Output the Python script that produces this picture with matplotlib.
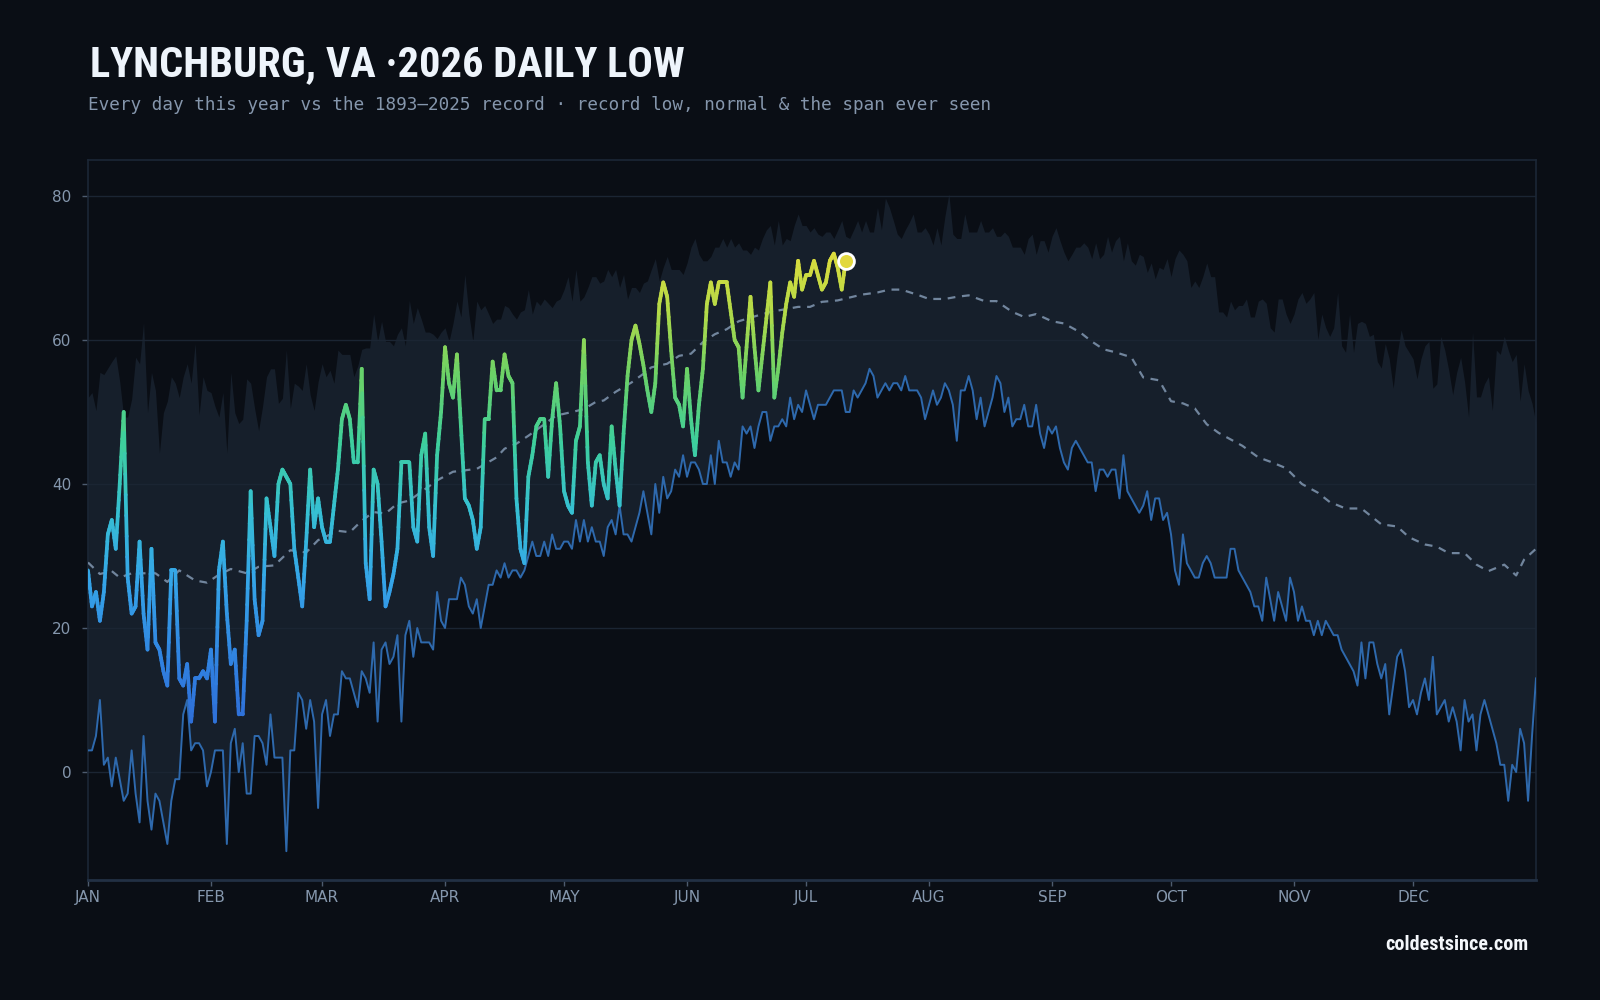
import numpy as np
import matplotlib
matplotlib.use("Agg")
import matplotlib.pyplot as plt
from matplotlib.collections import LineCollection
from matplotlib.colors import LinearSegmentedColormap
from matplotlib import font_manager

# ---------------- data ----------------
month_labels = ["JAN", "FEB", "MAR", "APR", "MAY", "JUN", "JUL", "AUG", "SEP", "OCT", "NOV", "DEC"]
month_starts = [0, 31, 59, 90, 120, 151, 181, 212, 243, 273, 304, 334]
y_ticks = [0, 20, 40, 60, 80]

# 2026 daily lows (Jan 1 .. Jul 11)
this_year = [
    28, 23, 25, 21, 25, 33, 35, 31, 40, 50,
    27, 22, 23, 32, 22, 17, 31, 18, 17, 14,
    12, 28, 28, 13, 12, 15, 7, 13, 13, 14,
    13, 17, 7, 28, 32, 22, 15, 17, 8, 8,
    21, 39, 24, 19, 21, 38, 34, 30, 40, 42,
    41, 40, 31, 27, 23, 32, 42, 34, 38, 34,
    32, 32, 37, 42, 49, 51, 49, 43, 43, 56,
    29, 24, 42, 40, 32, 23, 25, 27.5, 31, 43,
    43, 43, 34, 32, 44, 47, 34, 30, 44, 50,
    59, 54, 52, 58, 48, 38, 37, 35, 31, 34,
    49, 49, 57, 53, 53, 58, 55, 54, 38, 31,
    29, 41, 44, 48, 49, 49, 41, 49, 54, 48,
    39, 37, 36, 46, 48, 60, 43, 37, 43, 44,
    40, 38, 48, 42, 37, 47, 55, 60, 62, 59.5,
    56.5, 53, 50, 54, 65, 68, 66, 58.5, 52, 51,
    48, 56, 49, 44, 51, 56, 65, 68, 65, 68,
    68, 68, 64, 60, 59, 52, 59, 66, 59, 53,
    58, 63, 68, 52, 56, 61, 65, 68, 66, 71,
    67, 69, 69, 71, 69, 67, 68, 71, 72, 70,
    67, 71,
]

# record low of the daily low, 1893-2025
record_low = [
    3, 3, 5, 10, 1, 2, -2, 2, -1, -4,
    -3, 3, -3, -7, 5, -4, -8, -3, -4, -7,
    -10, -4, -1, -1, 8, 10, 3, 4, 4, 3,
    -2, 0, 3, 3, 3, -10, 4, 6, 0, 4,
    -3, -3, 5, 5, 4, 1, 8, 2, 2, 2,
    -11, 3, 3, 11, 10, 6, 10, 7, -5, 8,
    10, 5, 8, 8, 14, 13, 13, 11, 9, 14,
    13, 11, 18, 7, 17, 18, 15, 16, 19, 7,
    19, 21, 16, 20, 18, 18, 18, 17, 25, 21,
    20, 24, 24, 24, 27, 26, 23, 22, 24, 20,
    23, 26, 26, 28, 27, 29, 27, 28, 28, 27,
    28, 30, 32, 30, 30, 32, 30, 33, 31, 31,
    32, 32, 31, 35, 32, 35, 32, 34, 32, 32,
    30, 34, 35, 33, 37, 33, 33, 32, 34, 36,
    39, 36, 33, 40, 36, 41, 38, 39, 42, 41,
    44, 41, 43, 43, 42, 40, 40, 44, 40, 46,
    43, 43, 41, 43, 42, 48, 47, 48, 45, 48,
    50, 50, 46, 48, 48, 49, 48, 52, 49, 51,
    50, 53, 51, 49, 51, 51, 51, 52, 53, 53,
    53, 50, 50, 53, 52, 53, 54, 56, 55, 52,
    53, 54, 53, 54, 54, 53, 55, 53, 53, 53,
    52, 49, 51, 53, 51, 52, 54, 53, 51, 46,
    53, 53, 55, 53, 49, 52, 48, 50, 52, 55,
    54, 50, 52, 48, 49, 49, 51, 48, 48, 51,
    47, 45, 48, 47, 48, 45, 43, 42, 45, 46,
    45, 44, 43, 43, 39, 42, 42, 41, 42, 42,
    38, 44, 39, 38, 37, 36, 37, 39, 35, 38,
    38, 35, 36, 33, 28, 26, 33, 29, 28, 27,
    27, 29, 30, 29, 27, 27, 27, 27, 31, 31,
    28, 27, 26, 25, 23, 23, 21, 27, 24, 21,
    25, 23, 21, 27, 25, 21, 23, 21, 21, 19,
    21, 19, 21, 20, 19, 19, 17, 16, 15, 14,
    12, 18, 13, 18, 18, 15, 13, 15, 8, 12,
    16, 17, 14, 9, 10, 8, 11, 13, 10, 16,
    8, 9, 10, 7, 9, 7, 3, 10, 7, 8,
    3, 8, 10, 8, 6, 4, 1, 1, -4, 1,
    0, 6, 4, -4, 5, 13,
]

# highest daily low ever recorded (top of the span)
record_high_low = [
    52, 52.7, 50.2, 55.5, 55.2, 56.1, 57, 57.8, 54.2, 49.3,
    49.3, 51.8, 57.6, 56.7, 62.4, 49.9, 55.5, 53, 44.3, 49.9,
    51.5, 54.9, 54, 52, 54.9, 56.7, 54, 59.5, 49.6, 54.9,
    53, 52.7, 50.8, 49.3, 52.7, 44.3, 55.5, 49.9, 48.4, 49,
    54.6, 54, 50.5, 47.4, 50.8, 54.9, 56, 56, 51.2, 51.9,
    58.6, 50.5, 54, 53.6, 53, 56.7, 52.4, 50.2, 54.2, 56.7,
    54.9, 55.8, 54, 58.6, 58, 58, 58, 54.9, 56.4, 58.7,
    58.9, 58.9, 63.6, 59.8, 62.6, 59.8, 59.8, 59.2, 60.8, 61.7,
    59.2, 65.5, 62.3, 64.5, 62.9, 61.1, 61.1, 60.8, 60.2, 61.1,
    61.7, 59.8, 62.3, 65.4, 63.2, 69.1, 63.6, 59.8, 65.4, 64.2,
    64.8, 63.6, 62.3, 62.9, 62.9, 64.8, 64.5, 63.6, 62.9, 63.9,
    64.2, 67, 63.6, 65.4, 64.8, 65.7, 65.1, 64.5, 65.4, 65.7,
    67, 68.8, 65.4, 69.8, 65.4, 66, 67.3, 68.8, 68.8, 67.9,
    68.2, 69.8, 68.8, 69.8, 67.3, 69.1, 65.7, 67.3, 67.3, 66.6,
    67.9, 68.2, 69.8, 71.3, 68.2, 70.1, 71.6, 69.8, 69.8, 69.8,
    69.1, 70.7, 72.9, 74.1, 71.9, 71, 71, 71.6, 72.9, 72.9,
    74.1, 72.9, 74.1, 72.9, 73.5, 72.5, 72.5, 71.9, 72.9, 72.5,
    74.1, 75.3, 75.9, 73.2, 76.6, 73.2, 74.1, 73.8, 75.9, 77.5,
    75.9, 75.9, 75, 75.6, 74.7, 74.4, 75, 75, 74.1, 75.3,
    76.6, 74.4, 74.1, 75.3, 76.6, 75, 76.6, 75, 75, 78.4,
    75.3, 79.7, 78.4, 76.6, 74.7, 74.1, 75.3, 76.3, 77.5, 75,
    75, 75.6, 74.7, 73.2, 75.6, 73.2, 77.2, 80.3, 74.7, 74.1,
    74.1, 77.5, 75, 75, 75, 76.6, 75, 75, 75.6, 74.4,
    74.4, 75, 74.4, 72.9, 72.9, 72.9, 71.9, 74.1, 74.7, 71.9,
    73.8, 73.8, 72.2, 74.4, 75.6, 73.8, 72.2, 71, 71.9, 72.9,
    72.9, 73.5, 72.9, 71.3, 73.5, 71.3, 71.9, 74.4, 72.2, 73.8,
    74.4, 71, 73.5, 71, 70.4, 71.9, 71.6, 69.4, 70.7, 68.5,
    70.1, 69.8, 71.3, 68.8, 71.3, 72.5, 71.9, 71, 67.3, 68.2,
    67.3, 68.8, 70.7, 68.8, 68.8, 63.9, 63.9, 63.2, 65.4, 64.2,
    64.8, 64.8, 65.7, 63.2, 63.2, 65.4, 65.7, 65.1, 61.7, 61.1,
    65.7, 65.7, 63.6, 62.3, 63.6, 65.7, 66.6, 65.1, 65.7, 66.6,
    60.1, 63.6, 61.7, 60.5, 61.7, 66.6, 59.2, 58.3, 63.6, 58.3,
    62.3, 62.6, 62.3, 60.5, 60.8, 57, 56.1, 59.5, 57.4, 53.3,
    58, 61.4, 59.2, 58.3, 57.4, 54.6, 57.4, 59.2, 59.8, 53.3,
    53.9, 60.5, 58.6, 55.8, 52.4, 55.5, 57.6, 54.2, 49.3, 61.1,
    52.1, 52.1, 53.9, 54.9, 50.2, 58.6, 58, 60.5, 58.6, 57,
    58, 51.5, 56.7, 53, 51.2, 48.4,
]

# normal daily low (read every few days)
normal_days = [0, 3, 6, 8, 11, 14, 17, 20, 23, 27, 30, 33, 36, 40, 43, 47, 51, 55, 58, 63,
               66, 69, 72, 75, 78, 81, 85, 88, 92, 95, 98, 103, 105, 108, 111, 114, 118, 122,
               125, 128, 130, 133, 137, 140, 142, 146, 149, 152, 155, 158, 161, 164, 167, 170,
               173, 176, 179, 182, 185, 189, 192, 195, 199, 202, 205, 209, 212, 216, 219, 222,
               226, 229, 233, 236, 239, 243, 246, 250, 253, 256, 259, 263, 266, 270, 273, 276,
               279, 282, 285, 288, 291, 295, 298, 302, 306, 310, 313, 317, 321, 326, 330, 333,
               337, 340, 343, 347, 350, 353, 357, 360, 362, 365]
normal_vals = [29.1, 27.5, 27.9, 27, 27.6, 27.6, 27.6, 26.4, 28, 26.6, 26.3, 27.4, 28.2, 27.6,
               28.5, 28.7, 30.8, 30.5, 32.2, 33.5, 33.3, 34.9, 36.1, 35.9, 37.3, 37.7, 39.3,
               40.5, 41.7, 41.9, 42.1, 43.7, 44.9, 45.6, 46.7, 47.9, 49.5, 50, 50.4, 51.4, 51.6,
               52.8, 54.1, 55.3, 56.2, 56.7, 57.8, 58.1, 59.7, 60.8, 61.5, 62.6, 63.1, 63.6, 64,
               64.3, 64.6, 64.6, 65.3, 65.5, 65.9, 66.3, 66.6, 67, 67, 66.3, 65.7, 65.7, 66,
               66.2, 65.4, 65.4, 63.9, 63.2, 63.6, 62.6, 62.3, 61.1, 59.8, 58.7, 58.3, 57.6,
               54.8, 54.4, 51.5, 51.2, 50.5, 48.3, 47.1, 46.2, 45.3, 43.7, 43.1, 42.2, 40, 38.8,
               37.5, 36.6, 36.6, 34.4, 34.1, 32.6, 31.6, 31.3, 30.4, 30.4, 28.8, 27.9, 28.8,
               27.3, 29.5, 31]

# ---------------- style ----------------
BG = "#0a0e15"
BAND = "#161f2b"
GRID = "#1b2533"
TICK = "#8597ad"

plt.rcParams["font.family"] = ["DejaVu Sans"]

# pick a narrow bold family for the headline if one is installed
_names = {f.name for f in font_manager.fontManager.ttflist}
_narrow = None
for cand in ["Liberation Sans Narrow", "DejaVu Sans Condensed", "Roboto Condensed",
             "Open Sans Condensed"]:
    if cand in _names:
        _narrow = cand
        break
_has_cond_dejavu = any(f.name == "DejaVu Sans" and f.stretch in ("condensed", "semi-condensed")
                       for f in font_manager.fontManager.ttflist)

fig = plt.figure(figsize=(16, 10), dpi=100, facecolor=BG)
ax = fig.add_axes([0.055, 0.12, 0.905, 0.72])
ax.set_facecolor(BG)

days = np.arange(len(record_low))
ax.fill_between(days, record_low, record_high_low, color=BAND, lw=0, zorder=1)

for yv in y_ticks:
    ax.axhline(yv, color=GRID, lw=1.0, zorder=1.5)

ax.plot(days, record_low, color="#2e69ad", lw=1.4, zorder=3, solid_joinstyle="round")
ax.plot(normal_days, normal_vals, color="#71859d", lw=1.6, ls=(0, (3.5, 3)), zorder=4)

# this-year line with vertical colour gradient
cmap = LinearSegmentedColormap.from_list(
    "lows",
    [(0.00, "#2d5fd0"), (0.20, "#3080e0"), (0.37, "#35a6e8"), (0.50, "#36c0d2"),
     (0.63, "#3ecf9c"), (0.76, "#6cd166"), (0.88, "#b4da48"), (1.00, "#e2dc3c")])
vmin, vmax = 0, 73
ty = np.asarray(this_year, dtype=float)
tx = np.arange(len(ty))
segs, cols = [], []
nsub = 8
for i in range(len(ty) - 1):
    for k in range(nsub):
        a, b = k / nsub, (k + 1) / nsub
        x0, x1 = tx[i] + a, tx[i] + b
        y0 = ty[i] + (ty[i + 1] - ty[i]) * a
        y1 = ty[i] + (ty[i + 1] - ty[i]) * b
        segs.append([(x0, y0), (x1, y1)])
        cols.append(cmap(((y0 + y1) / 2 - vmin) / (vmax - vmin)))
lc = LineCollection(segs, colors=cols, linewidths=2.7, capstyle="round",
                    joinstyle="round", zorder=5)
ax.add_collection(lc)
ax.scatter([tx[-1]], [ty[-1]], s=130, color="#e2d83e", edgecolor="white",
           linewidth=2.0, zorder=6)

ax.set_xlim(0, 365)
ax.set_ylim(-15, 85)
ax.set_yticks(y_ticks)
ax.set_yticklabels([str(v) for v in y_ticks])
ax.set_xticks(month_starts)
ax.set_xticklabels(month_labels)
ax.tick_params(axis="both", colors="#4d5b6e", labelcolor=TICK, labelsize=11, length=4, width=1)
ax.tick_params(axis="y", pad=8)
ax.tick_params(axis="x", pad=3)
for s in ax.spines.values():
    s.set_color("#1c2736")
    s.set_linewidth(1.2)
ax.spines["bottom"].set_color("#223044")
ax.spines["bottom"].set_linewidth(2)

# ---------------- text ----------------
if _narrow is not None:
    head_kw = dict(family=[_narrow, "DejaVu Sans"])
    title_size, foot_size = 30.5, 14.5
elif _has_cond_dejavu:
    head_kw = dict(family=["DejaVu Sans"], fontstretch="condensed")
    title_size, foot_size = 26, 12
else:
    head_kw = dict(family=["DejaVu Sans"])
    title_size, foot_size = 23, 11

fig.text(0.056, 0.9235, "LYNCHBURG, VA \u00b72026 DAILY LOW", color="#eef4fb",
         fontsize=title_size, fontweight="bold", va="baseline", ha="left", **head_kw)
fig.text(0.055, 0.890,
         "Every day this year vs the 1893\u20132025 record \u00b7 record low, normal & the span ever seen",
         color="#8596ac", fontsize=12.7, family=["DejaVu Sans Mono"], va="baseline", ha="left")
fig.text(0.955, 0.050, "coldestsince.com", color="#f4f7fb", fontsize=foot_size,
         fontweight="bold", va="baseline", ha="right", **head_kw)

fig.savefig("out.png", dpi=100, facecolor=BG)
